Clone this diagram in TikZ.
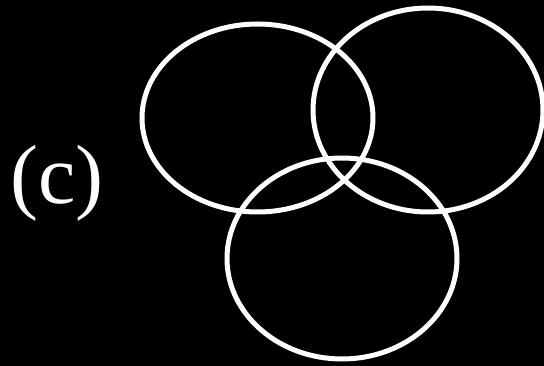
\documentclass[tikz,border=0pt]{standalone}
\usepackage{fontspec}
\newfontfamily\labelfont{Liberation Serif}
\begin{document}
\begin{tikzpicture}[x=1pt,y=-1pt,
  ring/.style={draw=white,line width=5pt},
  lbl/.style={text=white,font=\labelfont\fontsize{84}{84}\selectfont,inner sep=0pt}]
\fill[black] (0,0) rectangle (544,366);
\useasboundingbox (0,0) rectangle (544,366);
\draw[ring] (257.5,118) ellipse [x radius=115.5, y radius=94];
\draw[ring] (428,110) ellipse [x radius=115, y radius=102];
\draw[ring] (342,258.5) ellipse [x radius=115, y radius=100.5];
\node[lbl] (c) at (57,183) {(c)};
\end{tikzpicture}
\end{document}
